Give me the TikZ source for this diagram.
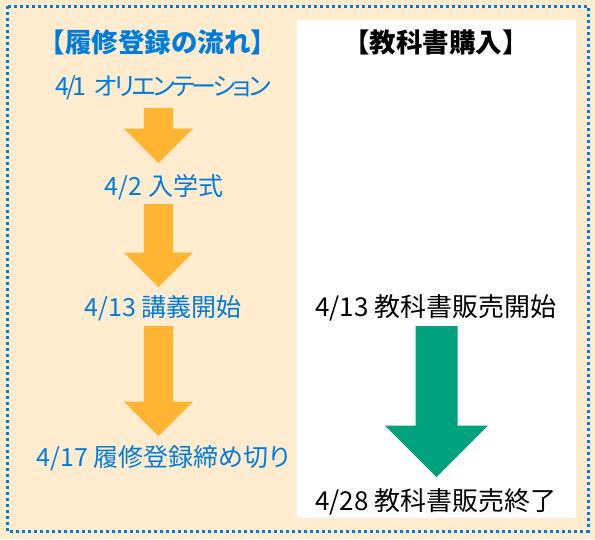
\documentclass[tikz,border=0pt]{standalone}
\usepackage{fontspec}
\setmainfont{Noto Sans CJK JP}
\usetikzlibrary{calc}
\definecolor{paper}{RGB}{255,235,205}
\definecolor{flowblue}{RGB}{0,125,220}
\definecolor{flowgold}{RGB}{255,181,49}
\definecolor{bookgreen}{RGB}{0,161,125}
\tikzstyle{flow text} = [inner sep=0, text=flowblue, font=\fontsize{25}{29}\selectfont\addfontfeatures{RawFeature=+palt}]
\tikzstyle{book text} = [inner sep=0, text=black, font=\fontsize{26}{30}\selectfont\addfontfeatures{RawFeature=+palt}]
\tikzstyle{head text} = [inner sep=0, font=\bfseries\fontsize{26.5}{30}\selectfont]
% colour, from, to, half shaft, half head
\newcommand{\blockarrow}[5]{%
  \fill[#1] let \p1=(#2), \p2=(#3) in
    (\x1-#4pt,\y1) -- (\x1+#4pt,\y1) -- (\x1+#4pt,\y2+#5pt) -- (\x1+#5pt,\y2+#5pt)
    -- (\x2,\y2) -- (\x1-#5pt,\y2+#5pt) -- (\x1-#4pt,\y2+#5pt) -- cycle;
}

\begin{document}
\begin{tikzpicture}[x=1pt, y=-1pt]
\useasboundingbox (0,0) rectangle (595,539);
\fill[paper] (0,0) rectangle (595,539);
\fill[white] (297,20) rectangle (576,518);
\draw[flowblue, line width=3pt, dash pattern=on 3pt off 3pt] (7,6) rectangle (588,531);

    % left column
    \node(flow title)[head text, text=flowblue] at (158,42) {【履修登録の流れ】};
    \node(orient)[flow text, font=\fontsize{25}{29}\selectfont\addfontfeatures{RawFeature=+palt,LetterSpace=-12}] at (163,88) {4/1\hspace{5pt} オリエンテーション};
    \node(entrance)[flow text] at (164,187) {4/2 入学式};
    \node(lecture)[flow text] at (163,308) {4/13 講義開始};
    \node(deadline)[flow text] at (163,458) {4/17 履修登録締め切り};

    % right column
    \node(book title)[head text] at (436,42) {【教科書購入】};
    \node(sale start)[book text] at (436,308) {4/13 教科書販売開始};
    \node(sale end)[book text] at (436,502) {4/28 教科書販売終了};

    \coordinate(orient out) at ($(orient)+(-4.5,20)$);
    \coordinate(entrance in) at ($(entrance)+(-5.5,-24)$);
    \coordinate(entrance out) at ($(entrance)+(-5.5,17)$);
    \coordinate(lecture in) at ($(lecture)+(-4.5,-21)$);
    \coordinate(lecture out) at ($(lecture)+(-4.5,18)$);
    \coordinate(deadline in) at ($(deadline)+(-4.5,-22)$);
    \coordinate(sale start out) at ($(sale start)+(0.5,18)$);
    \coordinate(sale end in) at ($(sale end)+(0.5,-25)$);

    \blockarrow{flowgold}{orient out}{entrance in}{14.5}{34.5}
    \blockarrow{flowgold}{entrance out}{lecture in}{14.5}{34.5}
    \blockarrow{flowgold}{lecture out}{deadline in}{14.5}{34.5}
    \blockarrow{bookgreen}{sale start out}{sale end in}{21}{51.5}

\end{tikzpicture}
\end{document}
